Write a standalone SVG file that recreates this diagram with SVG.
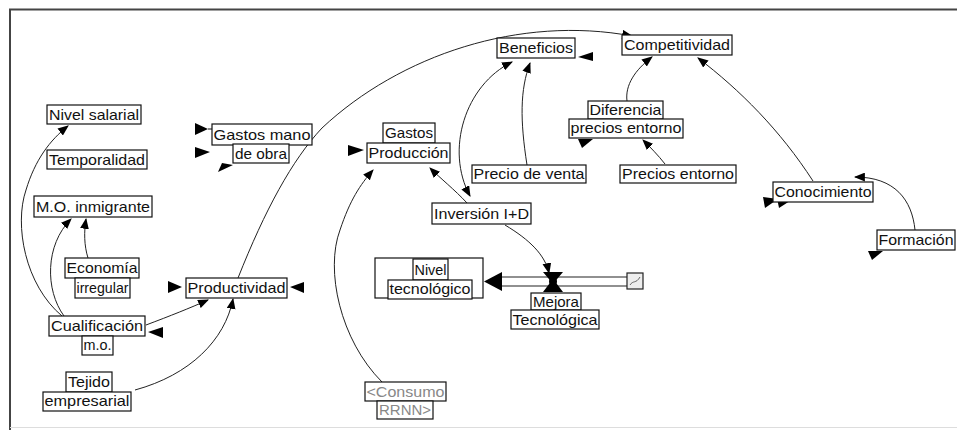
<svg xmlns="http://www.w3.org/2000/svg" width="957" height="433" viewBox="0 0 957 433">
<style>
.b{fill:#fff;stroke:#111;stroke-width:1.2}
.t{font-family:"Liberation Sans",Arial,sans-serif;font-size:15px;fill:#111;text-anchor:middle}
.g{fill:#888}
.c{fill:none;stroke:#222;stroke-width:1}
.h{fill:#000}
</style>
<defs>
<marker id="ah" viewBox="0 0 10 8" refX="9" refY="4" markerWidth="11" markerHeight="9" markerUnits="userSpaceOnUse" orient="auto">
<path d="M0,0 L10,4 L0,8 Z" fill="#000"/>
</marker>
<marker id="as" viewBox="0 0 10 8" refX="1" refY="4" markerWidth="11" markerHeight="9" markerUnits="userSpaceOnUse" orient="auto">
<path d="M10,0 L0,4 L10,8 Z" fill="#000"/>
</marker>
</defs>
<rect width="957" height="433" fill="#fff"/>
<g id="frame">
<path d="M10,430 L10,9.5 L957,9.5" fill="none" stroke="#444" stroke-width="2"/>
<path d="M10,427.5 L957,427.5" fill="none" stroke="#ddd" stroke-width="1"/>
</g>
<g id="connectors">
<path class="c" d="M62,316 C25,285 14,225 26,190 C35,160 50,140 68,126" marker-end="url(#ah)"/>
<path class="c" d="M64,316 C45,290 45,245 71,219" marker-end="url(#ah)"/>
<path class="c" d="M88,258 C84,245 84,232 86,219" marker-end="url(#ah)"/>
<path class="c" d="M146,325 C170,316 190,308 208,300" marker-end="url(#ah)"/>
<path class="c" d="M135,390 C190,375 225,340 233,299" marker-end="url(#ah)"/>
<path class="c" d="M238,278 C265,210 292,160 322,128 C400,55 520,15 632,36" marker-end="url(#ah)"/>
<path class="c" d="M382,382 C340,340 325,270 340,230 C350,200 360,185 373,170" marker-end="url(#ah)"/>
<path class="c" d="M467,203 C455,190 440,178 430,168" marker-end="url(#ah)"/>
<path class="c" d="M512,62 C465,85 445,150 470,196" marker-start="url(#as)" marker-end="url(#ah)"/>
<path class="c" d="M527,165 C520,120 520,90 530,63" marker-end="url(#ah)"/>
<path class="c" d="M627,101 C625,85 635,70 652,57" marker-end="url(#ah)"/>
<path class="c" d="M665,164 C658,155 650,147 643,140" marker-end="url(#ah)"/>
<path class="c" d="M813,181 C780,130 740,90 698,58" marker-end="url(#ah)"/>
<path class="c" d="M915,230 C912,200 895,177 855,177" marker-end="url(#ah)"/>
<path class="c" d="M505,225 C530,240 545,255 549,273" marker-end="url(#ah)"/>
</g>
<g id="flow">
<path d="M498,277 L627,277 M498,286 L627,286" fill="none" stroke="#222" stroke-width="1.2"/>
<path d="M484,281.5 L502,272 L502,291 Z" fill="#000"/>
<path d="M543,272 L563,272 L555,281.5 L563,292 L543,292 L551,281.5 Z" fill="#000"/>
<circle cx="553" cy="281.5" r="4" fill="#000"/>
<rect x="627" y="273" width="16" height="16" fill="#eee" stroke="#222" stroke-width="1.2"/>
<path d="M630,285 C633,280 636,284 640,277" fill="none" stroke="#666" stroke-width="1"/>
</g>
<g id="stubs">
<path class="h" d="M195,123 L208,129 L195,135 Z"/><path d="M208,129 L212,129" stroke="#111"/>
<path class="h" d="M195,147 L210,152 L195,158 Z"/>
<path class="h" d="M218,172 L222,163 L233,165 Z"/>
<path class="h" d="M168,281 L182,287 L168,293 Z"/>
<path class="h" d="M290,287 L304,282 L304,293 Z"/>
<path class="h" d="M148,332 L163,327 L163,338 Z"/>
<path class="h" d="M348,145 L364,150 L348,156 Z"/>
<path class="h" d="M578,57 L593,52 L593,61 Z"/>
<path class="h" d="M582,148 L578,139 L593,139 Z"/>
<path class="h" d="M765,208 L763,197 L778,199 Z"/>
<path class="h" d="M779,208 L777,198 L793,199 Z"/>
<path class="h" d="M872,260 L868,251 L883,251 Z"/>
</g>
<g id="n-nivel-salarial"><rect class="b" x="47" y="105" width="94" height="19"/><text class="t" x="94" y="120" textLength="90" lengthAdjust="spacingAndGlyphs">Nivel salarial</text></g>
<g id="n-temporalidad"><rect class="b" x="47" y="150" width="100" height="19"/><text class="t" x="97" y="165" textLength="96" lengthAdjust="spacingAndGlyphs">Temporalidad</text></g>
<g id="n-mo-inmigrante"><rect class="b" x="34" y="196" width="118" height="21"/><text class="t" x="93" y="212" textLength="114" lengthAdjust="spacingAndGlyphs">M.O. inmigrante</text></g>
<g id="n-gastos-mano-obra"><rect class="b" x="212" y="124" width="100" height="21"/><rect class="b" x="233" y="144" width="56" height="19"/><text class="t" x="262" y="140" textLength="97" lengthAdjust="spacingAndGlyphs">Gastos mano</text><text class="t" x="261" y="159" textLength="52" lengthAdjust="spacingAndGlyphs">de obra</text></g>
<g id="n-economia-irregular"><rect class="b" x="65" y="258" width="74" height="20"/><rect class="b" x="75" y="278" width="55" height="20"/><text class="t" x="102" y="273" textLength="71" lengthAdjust="spacingAndGlyphs">Economía</text><text class="t" x="102.5" y="293" textLength="52" lengthAdjust="spacingAndGlyphs">irregular</text></g>
<g id="n-productividad"><rect class="b" x="186" y="278" width="101" height="20"/><text class="t" x="236.5" y="293" textLength="98" lengthAdjust="spacingAndGlyphs">Productividad</text></g>
<g id="n-cualificacion"><rect class="b" x="49" y="316" width="96" height="20"/><rect class="b" x="82" y="336" width="31" height="19"/><text class="t" x="97" y="331" textLength="92" lengthAdjust="spacingAndGlyphs">Cualificación</text><text class="t" x="97.5" y="350" textLength="28" lengthAdjust="spacingAndGlyphs">m.o.</text></g>
<g id="n-tejido"><rect class="b" x="66" y="372" width="46" height="20"/><rect class="b" x="43" y="392" width="88" height="19"/><text class="t" x="89" y="387" textLength="42" lengthAdjust="spacingAndGlyphs">Tejido</text><text class="t" x="87" y="406" textLength="85" lengthAdjust="spacingAndGlyphs">empresarial</text></g>
<g id="n-gastos-produccion"><rect class="b" x="383" y="123" width="52" height="20"/><rect class="b" x="367" y="143" width="83" height="20"/><text class="t" x="409" y="138" textLength="48" lengthAdjust="spacingAndGlyphs">Gastos</text><text class="t" x="408.5" y="158" textLength="80" lengthAdjust="spacingAndGlyphs">Producción</text></g>
<g id="n-beneficios"><rect class="b" x="497" y="38" width="78" height="20"/><text class="t" x="536" y="53" textLength="74" lengthAdjust="spacingAndGlyphs">Beneficios</text></g>
<g id="n-competitividad"><rect class="b" x="622" y="35" width="110" height="20"/><text class="t" x="677" y="50" textLength="106" lengthAdjust="spacingAndGlyphs">Competitividad</text></g>
<g id="n-diferencia"><rect class="b" x="588" y="101" width="75" height="18"/><rect class="b" x="569" y="119" width="114" height="19"/><text class="t" x="625.5" y="115" textLength="72" lengthAdjust="spacingAndGlyphs">Diferencia</text><text class="t" x="626" y="133" textLength="111" lengthAdjust="spacingAndGlyphs">precios entorno</text></g>
<g id="n-precio-venta"><rect class="b" x="472" y="165" width="114" height="18"/><text class="t" x="529" y="179" textLength="111" lengthAdjust="spacingAndGlyphs">Precio de venta</text></g>
<g id="n-precios-entorno"><rect class="b" x="620" y="165" width="116" height="18"/><text class="t" x="678" y="179" textLength="112" lengthAdjust="spacingAndGlyphs">Precios entorno</text></g>
<g id="n-inversion"><rect class="b" x="432" y="203" width="99" height="21"/><text class="t" x="481.5" y="219" textLength="95" lengthAdjust="spacingAndGlyphs">Inversión I+D</text></g>
<g id="n-conocimiento"><rect class="b" x="773" y="182" width="100" height="20"/><text class="t" x="823" y="197" textLength="97" lengthAdjust="spacingAndGlyphs">Conocimiento</text></g>
<g id="n-formacion"><rect class="b" x="877" y="230" width="78" height="20"/><text class="t" x="916" y="245" textLength="75" lengthAdjust="spacingAndGlyphs">Formación</text></g>
<g id="n-nivel-tecnologico"><rect class="b" x="375" y="258" width="108" height="40"/><rect class="b" x="413" y="259" width="35" height="21"/><rect class="b" x="388" y="280" width="84" height="19"/><text class="t" x="430.5" y="275" textLength="32" lengthAdjust="spacingAndGlyphs">Nivel</text><text class="t" x="430" y="294" textLength="81" lengthAdjust="spacingAndGlyphs">tecnológico</text></g>
<g id="n-mejora"><rect class="b" x="531" y="293" width="50" height="17"/><rect class="b" x="511" y="310" width="88" height="19"/><text class="t" x="556" y="307" textLength="46" lengthAdjust="spacingAndGlyphs">Mejora</text><text class="t" x="555" y="325" textLength="85" lengthAdjust="spacingAndGlyphs">Tecnológica</text></g>
<g id="n-consumo"><rect class="b" x="365" y="382" width="81" height="19"/><rect class="b" x="377" y="401" width="56" height="18"/><text class="t g" x="405.5" y="397" textLength="78" lengthAdjust="spacingAndGlyphs">&lt;Consumo</text><text class="t g" x="405" y="415" textLength="52" lengthAdjust="spacingAndGlyphs">RRNN&gt;</text></g>
</svg>
